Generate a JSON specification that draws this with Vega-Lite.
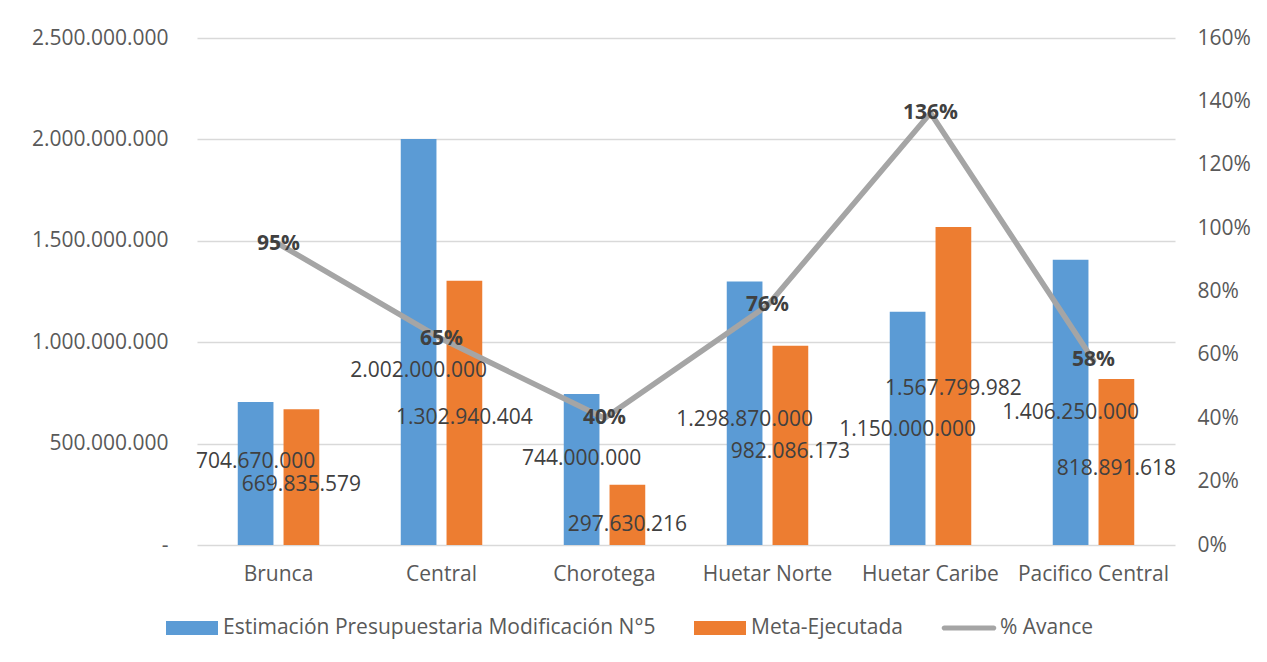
{
  "$schema": "https://vega.github.io/schema/vega-lite/v6.json",
  "width": 978,
  "height": 507,
  "autosize": "none",
  "padding": {"left": 197, "top": 38, "right": 92, "bottom": 117},
  "background": "white",
  "config": {
    "locale": {"number": {"decimal": ",", "thousands": ".", "grouping": [3], "currency": ["$", ""]}},
    "view": {"stroke": null},
    "axis": {"domain": false, "ticks": false, "labelFont": "Open Sans", "labelFontSize": 21, "labelColor": "#595959", "title": null}
  },
  "datasets": {
    "barras": [
      {"region": "Brunca", "serie": "Estimación Presupuestaria Modificación N°5", "valor": 704670000},
      {"region": "Brunca", "serie": "Meta-Ejecutada", "valor": 669835579},
      {"region": "Central", "serie": "Estimación Presupuestaria Modificación N°5", "valor": 2002000000},
      {"region": "Central", "serie": "Meta-Ejecutada", "valor": 1302940404},
      {"region": "Chorotega", "serie": "Estimación Presupuestaria Modificación N°5", "valor": 744000000},
      {"region": "Chorotega", "serie": "Meta-Ejecutada", "valor": 297630216},
      {"region": "Huetar Norte", "serie": "Estimación Presupuestaria Modificación N°5", "valor": 1298870000},
      {"region": "Huetar Norte", "serie": "Meta-Ejecutada", "valor": 982086173},
      {"region": "Huetar Caribe", "serie": "Estimación Presupuestaria Modificación N°5", "valor": 1150000000},
      {"region": "Huetar Caribe", "serie": "Meta-Ejecutada", "valor": 1567799982},
      {"region": "Pacifico Central", "serie": "Estimación Presupuestaria Modificación N°5", "valor": 1406250000},
      {"region": "Pacifico Central", "serie": "Meta-Ejecutada", "valor": 818891618}
    ],
    "avance": [
      {"region": "Brunca", "avance": 0.9506},
      {"region": "Central", "avance": 0.6508},
      {"region": "Chorotega", "avance": 0.4000},
      {"region": "Huetar Norte", "avance": 0.7561},
      {"region": "Huetar Caribe", "avance": 1.3633},
      {"region": "Pacifico Central", "avance": 0.5823}
    ]
  },
  "encoding": {
    "x": {
      "field": "region",
      "type": "nominal",
      "sort": ["Brunca", "Central", "Chorotega", "Huetar Norte", "Huetar Caribe", "Pacifico Central"],
      "scale": {"paddingInner": 0.5, "paddingOuter": 0.25},
      "axis": {"labelAngle": 0, "labelPadding": 18, "grid": false}
    },
    "xOffset": {"field": "serie", "type": "nominal", "sort": ["Estimación Presupuestaria Modificación N°5", "Meta-Ejecutada"], "scale": {"paddingInner": 0.22}}
  },
  "layer": [
    {
      "data": {"name": "barras"},
      "mark": {"type": "bar"},
      "encoding": {
        "y": {
          "field": "valor",
          "type": "quantitative",
          "scale": {"domain": [0, 2500000000]},
          "axis": {
            "values": [0, 500000000, 1000000000, 1500000000, 2000000000, 2500000000],
            "format": ",d",
            "labelExpr": "datum.value == 0 ? '-' : datum.label",
            "grid": true,
            "gridColor": "#D9D9D9",
            "gridWidth": 1.3,
            "labelPadding": 29
          }
        },
        "color": {
          "field": "serie",
          "type": "nominal",
          "scale": {"domain": ["Estimación Presupuestaria Modificación N°5", "Meta-Ejecutada", "% Avance"], "range": ["#5B9BD5", "#ED7D31", "#A5A5A5"]},
          "legend": {
            "orient": "none", "legendX": -31, "legendY": 564, "direction": "horizontal", "title": null,
            "symbolSize": 2704, "symbolStrokeWidth": 0, "symbolOpacity": 1,
            "labelFont": "Open Sans", "labelFontSize": 21, "labelColor": "#595959", "labelOffset": 5, "labelLimit": 0,
            "columnPadding": 38, "padding": 0,
            "encode": {
              "symbols": {
                "update": {
                  "shape": {"signal": "datum.value == '% Avance' ? 'M-0.95,-0.1L0.95,-0.1A0.1,0.1 0 0 1 0.95,0.1L-0.95,0.1A0.1,0.1 0 0 1 -0.95,-0.1Z' : 'M-1,-0.27L1,-0.27L1,0.27L-1,0.27Z'"}
                }
              }
            }
          }
        }
      }
    },
    {
      "data": {"name": "barras"},
      "transform": [{"filter": "datum.serie != 'Meta-Ejecutada'"}],
      "mark": {"type": "text", "font": "Open Sans", "fontSize": 21, "color": "#404040", "baseline": "middle"},
      "encoding": {
        "y": {"field": "valor", "type": "quantitative", "scale": {"domain": [-489000000, 6764000000]}, "axis": null},
        "text": {"field": "valor", "type": "quantitative", "format": ",d"}
      }
    },
    {
      "data": {"name": "barras"},
      "transform": [{"filter": "datum.serie == 'Meta-Ejecutada'"}],
      "mark": {"type": "text", "font": "Open Sans", "fontSize": 21, "color": "#404040", "baseline": "middle"},
      "encoding": {
        "y": {"field": "valor", "type": "quantitative", "scale": {"domain": [112000000, 4850000000]}, "axis": null},
        "text": {"field": "valor", "type": "quantitative", "format": ",d"}
      }
    },
    {
      "data": {"name": "avance"},
      "layer": [
        {
          "mark": {"type": "line", "color": "#A5A5A5", "strokeWidth": 5.5, "strokeCap": "round", "strokeJoin": "round"},
          "encoding": {
            "xOffset": null,
            "y": {
              "field": "avance",
              "type": "quantitative",
              "scale": {"domain": [0, 1.6]},
              "axis": {"orient": "right", "format": ".0%", "values": [0, 0.2, 0.4, 0.6, 0.8, 1.0, 1.2, 1.4, 1.6], "grid": false, "labelPadding": 22}
            }
          }
        },
        {
          "mark": {"type": "text", "font": "Open Sans", "fontSize": 21, "fontWeight": "bold", "color": "#404040", "baseline": "middle"},
          "encoding": {
            "xOffset": null,
            "y": {"field": "avance", "type": "quantitative"},
            "text": {"field": "avance", "type": "quantitative", "format": ".0%"}
          }
        }
      ]
    }
  ],
  "resolve": {"scale": {"y": "independent"}}
}
